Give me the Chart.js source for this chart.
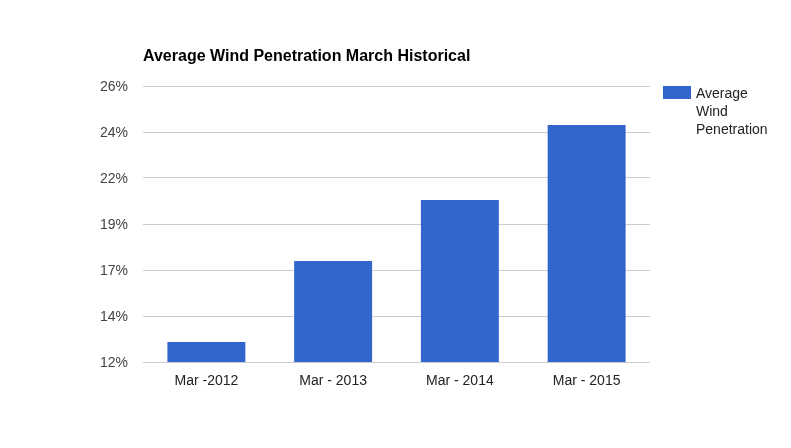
<!DOCTYPE html>
<html>
<head>
<meta charset="utf-8">
<script src="https://cdn.jsdelivr.net/npm/chart.js@4"></script>
<style>
  html, body { margin: 0; padding: 0; background: #fff; }
  #wrap { width: 791px; height: 448px; }
</style>
</head>
<body>
<div id="wrap"><canvas id="chart" width="791" height="448"></canvas></div>
<script>
// Daten
const kategorien = ['Mar -2012', 'Mar - 2013', 'Mar - 2014', 'Mar - 2015'];
const windAnteil = [13.04, 17.27, 20.45, 24.37];
const achsenTicks = [12, 14.4, 16.8, 19.2, 21.6, 24, 26.4];
const serienName = 'Average Wind Penetration';
const titel = 'Average Wind Penetration March Historical';

const schrift = 'Arial, "Liberation Sans", sans-serif';

// Titel und Legende rechts selbst zeichnen (Legende bricht um)
const titelUndLegende = {
    id: 'titelUndLegende',
    afterDraw(chart) {
        const ctx = chart.ctx;
        const area = chart.chartArea;
        ctx.save();
        ctx.fillStyle = '#000';
        ctx.font = 'bold 16px ' + schrift;
        ctx.textAlign = 'left';
        ctx.textBaseline = 'middle';
        ctx.fillText(titel, area.left, 56.5);

        const ds = chart.data.datasets[0];
        ctx.fillStyle = ds.backgroundColor;
        ctx.fillRect(663, 86, 28, 13);
        ctx.fillStyle = '#222';
        ctx.font = '14px ' + schrift;
        const zeilen = ds.label.split(' ');
        zeilen.forEach((z, i) => ctx.fillText(z, 696, 94 + i * 18));
        ctx.restore();
    }
};

new Chart(document.getElementById('chart'), {
    type: 'bar',
    data: {
        labels: kategorien,
        datasets: [{
            label: serienName,
            data: windAnteil,
            backgroundColor: '#3366cc',
            borderWidth: 0,
            categoryPercentage: 1,
            barPercentage: 0.615
        }]
    },
    options: {
        responsive: false,
        animation: false,
        layout: { padding: { left: 0, right: 141, top: 86, bottom: 0 } },
        plugins: {
            legend: { display: false },
            title: { display: false },
            tooltip: { enabled: false }
        },
        scales: {
            x: {
                grid: { display: false, drawTicks: false },
                border: { display: false },
                ticks: {
                    color: '#222',
                    padding: 11,
                    font: { family: schrift, size: 14 }
                },
                afterFit: s => { s.height = 86; }
            },
            y: {
                min: 12,
                max: 26.4,
                afterBuildTicks: s => { s.ticks = achsenTicks.map(v => ({ value: v })); },
                grid: { color: '#cccccc', drawTicks: false },
                border: { display: false },
                ticks: {
                    color: '#444',
                    padding: 15,
                    labelOffset: 1.5,
                    font: { family: schrift, size: 14 },
                    callback: v => Math.round(v) + '%'
                },
                afterFit: s => { s.width = 143; }
            }
        }
    },
    plugins: [titelUndLegende]
});
</script>
</body>
</html>
